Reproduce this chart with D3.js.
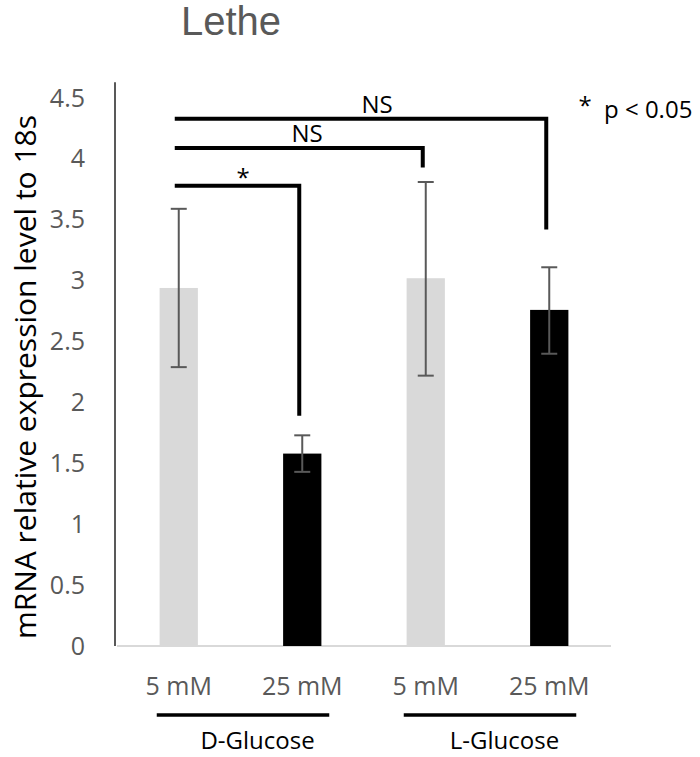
<!DOCTYPE html>
<html>
<head>
<meta charset="utf-8">
<title>Lethe</title>
<style>
  body { margin: 0; background: #fff; }
  text { font-family: 'Open Sans', sans-serif; }
</style>
<script src="https://d3js.org/d3.v7.min.js"></script>
</head>
<body>
<div id="chart"></div>
<script>
// data
var categories = ["D 5 mM", "D 25 mM", "L 5 mM", "L 25 mM"];
var tickNames = ["5 mM", "25 mM", "5 mM", "25 mM"];
var means = [2.94, 1.58, 3.02, 2.76];
var errHigh = [3.59, 1.73, 3.81, 3.11];
var errLow = [2.29, 1.43, 2.22, 2.40];
var barColors = ["#d9d9d9", "#000000", "#d9d9d9", "#000000"];
var yTicks = [0, 0.5, 1, 1.5, 2, 2.5, 3, 3.5, 4, 4.5];
var groups = [
  {name: "D-Glucose", from: 0, to: 1},
  {name: "L-Glucose", from: 2, to: 3}
];
// significance brackets: level of the bar, down to the end of the drop
var brackets = [
  {from: 0, to: 1, level: 3.78, drop: 1.89, label: "*", lx: 243},
  {from: 0, to: 2, level: 4.09, drop: 3.93, label: "NS", lx: 307},
  {from: 0, to: 3, level: 4.33, drop: 3.42, label: "NS", lx: 377}
];

var width = 700, height = 757;
var svg = d3.select("#chart").append("svg")
  .attr("width", width)
  .attr("height", height);

var x = d3.scaleBand()
  .domain(categories)
  .range([117, 611])
  .paddingInner(0.69)
  .paddingOuter(0.345);

var y = d3.scaleLinear()
  .domain([0, 4.5])
  .range([646, 98]);

function cx(i) { return x(categories[i]) + x.bandwidth() / 2; }

// title
svg.append("text")
  .attr("x", 231)
  .attr("y", 35)
  .attr("text-anchor", "middle")
  .style("font-family", "'Liberation Sans', Arial, sans-serif")
  .style("font-size", "40px")
  .attr("fill", "#595959")
  .text("Lethe");

// y axis
var yAxis = d3.axisLeft(y)
  .tickValues(yTicks)
  .tickSize(0)
  .tickPadding(30)
  .tickFormat(d3.format("~g"));

var gy = svg.append("g")
  .attr("transform", "translate(115,0)")
  .call(yAxis);
gy.select(".domain").remove();
gy.selectAll("text")
  .style("font-family", "'Open Sans', sans-serif")
  .style("font-size", "25px")
  .attr("fill", "#595959");

svg.append("line")
  .attr("x1", 115).attr("x2", 115)
  .attr("y1", y(0)).attr("y2", y(4.63))
  .attr("stroke", "#595959")
  .attr("stroke-width", 2);

// baseline
svg.append("line")
  .attr("x1", 117).attr("x2", 611)
  .attr("y1", y(0)).attr("y2", y(0))
  .attr("stroke", "#d9d9d9")
  .attr("stroke-width", 2);

// y label
svg.append("text")
  .attr("transform", "translate(36,377) rotate(-90)")
  .attr("text-anchor", "middle")
  .style("font-size", "30px")
  .attr("fill", "#000")
  .text("mRNA relative expression level to 18s");

// bars
svg.selectAll("rect.bar")
  .data(means)
  .enter().append("rect")
  .attr("class", "bar")
  .attr("x", function(d, i) { return x(categories[i]); })
  .attr("y", function(d) { return y(d); })
  .attr("width", x.bandwidth())
  .attr("height", function(d) { return y(0) - y(d); })
  .attr("fill", function(d, i) { return barColors[i]; });

// error bars
var eb = svg.selectAll("g.err")
  .data(means)
  .enter().append("g")
  .attr("class", "err")
  .attr("stroke", "#595959")
  .attr("stroke-width", 2);
eb.append("line")
  .attr("x1", function(d, i) { return cx(i); })
  .attr("x2", function(d, i) { return cx(i); })
  .attr("y1", function(d, i) { return y(errHigh[i]); })
  .attr("y2", function(d, i) { return y(errLow[i]); });
eb.append("line")
  .attr("x1", function(d, i) { return cx(i) - 8; })
  .attr("x2", function(d, i) { return cx(i) + 8; })
  .attr("y1", function(d, i) { return y(errHigh[i]); })
  .attr("y2", function(d, i) { return y(errHigh[i]); });
eb.append("line")
  .attr("x1", function(d, i) { return cx(i) - 8; })
  .attr("x2", function(d, i) { return cx(i) + 8; })
  .attr("y1", function(d, i) { return y(errLow[i]); })
  .attr("y2", function(d, i) { return y(errLow[i]); });

// x tick labels
svg.selectAll("text.xtick")
  .data(tickNames)
  .enter().append("text")
  .attr("class", "xtick")
  .attr("x", function(d, i) { return cx(i); })
  .attr("y", 695)
  .attr("text-anchor", "middle")
  .style("font-size", "25px")
  .attr("fill", "#595959")
  .text(function(d) { return d; });

// group lines and names
svg.selectAll("line.grp")
  .data(groups)
  .enter().append("line")
  .attr("class", "grp")
  .attr("x1", function(d) { return cx(d.from) - 22; })
  .attr("x2", function(d) { return cx(d.to) + 27; })
  .attr("y1", 715).attr("y2", 715)
  .attr("stroke", "#000")
  .attr("stroke-width", 3.5);
svg.selectAll("text.grp")
  .data(groups)
  .enter().append("text")
  .attr("class", "grp")
  .attr("x", function(d) { return (cx(d.from) + cx(d.to)) / 2 + 17; })
  .attr("y", 749)
  .attr("text-anchor", "middle")
  .style("font-size", "24px")
  .attr("fill", "#000")
  .text(function(d) { return d.name; });

// significance brackets
var br = svg.selectAll("g.bracket")
  .data(brackets)
  .enter().append("g")
  .attr("class", "bracket");
br.append("path")
  .attr("d", function(d) {
    return "M" + (cx(d.from) - 4) + "," + y(d.level) +
      "H" + (cx(d.to) - 3) + "V" + y(d.drop);
  })
  .attr("fill", "none")
  .attr("stroke", "#000")
  .attr("stroke-width", 4);
br.append("text")
  .attr("x", function(d) { return d.lx; })
  .attr("y", function(d) { return y(d.level) - (d.label === "*" ? 0 : 6); })
  .attr("text-anchor", "middle")
  .style("font-size", "24px")
  .attr("fill", "#000")
  .text(function(d) { return d.label; });

// legend
svg.append("text")
  .attr("x", 585)
  .attr("y", 114)
  .attr("text-anchor", "middle")
  .style("font-size", "24px")
  .text("*");
svg.append("text")
  .attr("x", 604)
  .attr("y", 118)
  .style("font-size", "24px")
  .text("p < 0.05");
</script>
</body>
</html>
